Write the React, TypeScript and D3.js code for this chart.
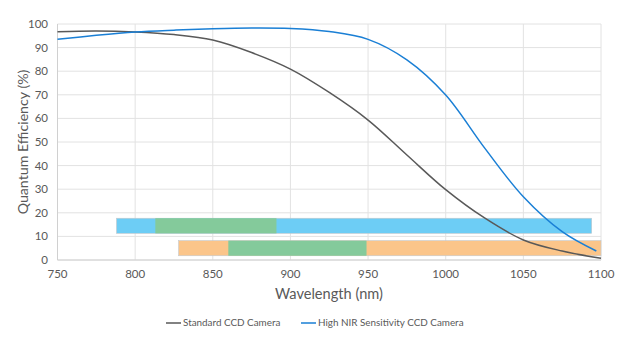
import { useRef, useEffect } from "react";
import * as d3 from "d3";

// wavelength (nm) -> quantum efficiency (%)
const standardWl = [750, 775, 800, 825, 850, 875, 900, 925, 950, 975, 1000, 1025, 1050, 1075, 1100];
const standardQe = [96.7, 97.0, 96.6, 95.5, 93.2, 87.9, 80.9, 71.0, 59.3, 44.5, 29.8, 17.8, 8.5, 3.8, 0.7];

const nirWl = [750, 775, 800, 825, 850, 875, 900, 925, 950, 975, 1000, 1025, 1050, 1075, 1097];
const nirQe = [93.5, 95.2, 96.6, 97.4, 98.0, 98.3, 98.1, 96.8, 93.5, 84.8, 69.9, 47.5, 26.8, 12.0, 3.8];

// range bars drawn inside the plot (nm), and their vertical extent (%)
const barStart = [788, 828];
const greenStart = [813, 860];
const greenEnd = [891, 949];
const barEnd = [1094, 1100];
const barLow = [11.3, 1.8];
const barHigh = [17.7, 8.2];
const barColors = ["#6dcdf5", "#fbc58a"];
const greenColor = "#84ca9b";

const xTicks = [750, 800, 850, 900, 950, 1000, 1050, 1100];
const yTicks = [0, 10, 20, 30, 40, 50, 60, 70, 80, 90, 100];

const seriesNames = ["Standard CCD Camera", "High NIR Sensitivity CCD Camera"];
const seriesColors = ["#595959", "#1a7fd5"];

const width = 624;
const height = 351;
const font = "Lato, 'Open Sans', sans-serif";

const App = () => {
  const svgRef = useRef<SVGSVGElement>(null);

  useEffect(() => {
    const svg = d3.select(svgRef.current);
    svg.selectAll("*").remove();

    const x = d3.scaleLinear().domain([750, 1100]).range([57.5, 601]);
    const y = d3.scaleLinear().domain([0, 100]).range([260, 24]);

    // grid
    const grid = svg.append("g");
    grid
      .selectAll("line.h")
      .data(yTicks)
      .enter()
      .append("line")
      .attr("x1", x(750))
      .attr("x2", x(1100))
      .attr("y1", (d) => y(d))
      .attr("y2", (d) => y(d))
      .attr("stroke", "#e2e2e2")
      .attr("stroke-width", 1);
    grid
      .selectAll("line.v")
      .data(xTicks)
      .enter()
      .append("line")
      .attr("x1", (d) => x(d))
      .attr("x2", (d) => x(d))
      .attr("y1", y(0))
      .attr("y2", y(100))
      .attr("stroke", "#e2e2e2")
      .attr("stroke-width", 1);

    // axis lines
    svg
      .append("line")
      .attr("x1", x(750))
      .attr("x2", x(1100))
      .attr("y1", y(0))
      .attr("y2", y(0))
      .attr("stroke", "#d0d0d0");
    svg
      .append("line")
      .attr("x1", x(750))
      .attr("x2", x(750))
      .attr("y1", y(0))
      .attr("y2", y(100))
      .attr("stroke", "#d0d0d0");

    // range bars
    const bars = svg.append("g");
    barStart.forEach((s, i) => {
      bars
        .append("rect")
        .attr("x", x(s))
        .attr("y", y(barHigh[i]))
        .attr("width", x(barEnd[i]) - x(s))
        .attr("height", y(barLow[i]) - y(barHigh[i]))
        .attr("fill", barColors[i])
        .attr("stroke", "#c4c8cc")
        .attr("stroke-width", 0.6);
      bars
        .append("rect")
        .attr("x", x(greenStart[i]))
        .attr("y", y(barHigh[i]))
        .attr("width", x(greenEnd[i]) - x(greenStart[i]))
        .attr("height", y(barLow[i]) - y(barHigh[i]))
        .attr("fill", greenColor);
    });

    // curves
    const line = d3
      .line<[number, number]>()
      .x((d) => x(d[0]))
      .y((d) => y(d[1]))
      .curve(d3.curveCatmullRom.alpha(0.5));

    const series: [number, number][][] = [
      standardWl.map((w, i) => [w, standardQe[i]]),
      nirWl.map((w, i) => [w, nirQe[i]]),
    ];
    series.forEach((pts, i) => {
      svg
        .append("path")
        .attr("d", line(pts))
        .attr("fill", "none")
        .attr("stroke", seriesColors[i])
        .attr("stroke-width", 1.5);
    });

    // tick labels
    svg
      .selectAll("text.yt")
      .data(yTicks)
      .enter()
      .append("text")
      .attr("x", 48)
      .attr("y", (d) => y(d))
      .attr("dy", "0.35em")
      .attr("text-anchor", "end")
      .attr("font-family", font)
      .attr("font-size", 11.5)
      .attr("fill", "#595959")
      .text((d) => d);
    svg
      .selectAll("text.xt")
      .data(xTicks)
      .enter()
      .append("text")
      .attr("x", (d) => x(d))
      .attr("y", 278)
      .attr("text-anchor", "middle")
      .attr("font-family", font)
      .attr("font-size", 11.5)
      .attr("fill", "#595959")
      .text((d) => d);

    // axis titles
    svg
      .append("text")
      .attr("x", 329)
      .attr("y", 299)
      .attr("text-anchor", "middle")
      .attr("font-family", font)
      .attr("font-size", 14.6)
      .attr("fill", "#595959")
      .text("Wavelength (nm)");
    svg
      .append("text")
      .attr("transform", "translate(28,142) rotate(-90)")
      .attr("text-anchor", "middle")
      .attr("font-family", font)
      .attr("font-size", 14.2)
      .attr("fill", "#595959")
      .text("Quantum Efficiency (%)");

    // legend
    const legendX = [166, 301];
    seriesNames.forEach((name, i) => {
      const g = svg.append("g").attr("transform", `translate(${legendX[i]},323)`);
      g.append("line")
        .attr("x1", 0)
        .attr("x2", 15)
        .attr("stroke", seriesColors[i])
        .attr("stroke-width", 1.5);
      g.append("text")
        .attr("x", 17)
        .attr("dy", "0.35em")
        .attr("font-family", font)
        .attr("font-size", 9.9)
        .attr("fill", "#595959")
        .text(name);
    });
  }, []);

  return (
    <svg
      ref={svgRef}
      width={width}
      height={height}
      style={{ position: "absolute", left: 0, top: 0, background: "#fff" }}
    />
  );
};

export default App;
